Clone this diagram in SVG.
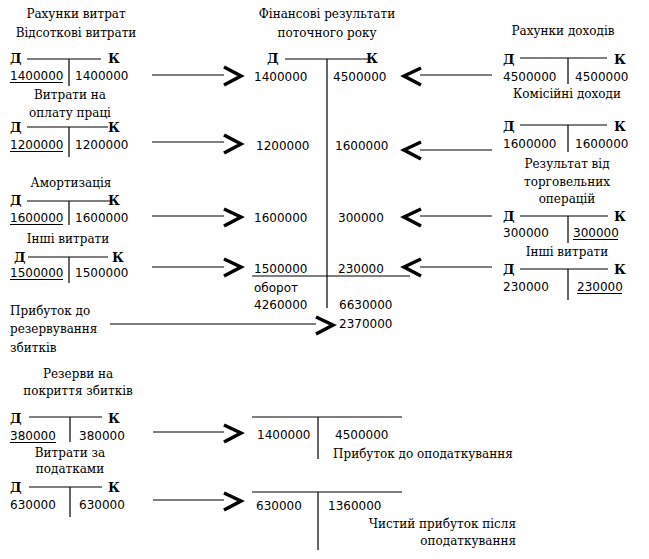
<svg xmlns="http://www.w3.org/2000/svg" width="649" height="559" viewBox="0 0 649 559">
<style>
.lbl{font-family:"DejaVu Serif","Liberation Serif",serif;font-size:12px;fill:#000}
.dk{font-family:"DejaVu Serif","Liberation Serif",serif;font-size:13px;font-weight:bold;fill:#000}
.num{font-family:"DejaVu Sans","Liberation Sans",sans-serif;font-size:12px;fill:#000}
.m{text-anchor:middle}
.e{text-anchor:end}
.ln{stroke:#000;stroke-width:1.2;fill:none}
.ul{stroke:#000;stroke-width:1;fill:none}
.chev{stroke:#000;stroke-width:3.5;fill:none;stroke-linejoin:miter}
</style>
<rect width="649" height="559" fill="#fff"/>

<g id="acc-vidsotkovi">
<text class="lbl m" x="76" y="18">Рахунки витрат</text>
<text class="lbl m" x="76" y="37">Відсоткові витрати</text>
<text class="dk" x="10" y="63">Д</text><text class="dk" x="108" y="63">К</text>
<line class="ln" x1="27" y1="59" x2="101" y2="59"/><line class="ln" x1="69" y1="59" x2="69" y2="86"/>
<text class="num" x="10" y="80">1400000</text><line class="ul" x1="10" y1="82.5" x2="63" y2="82.5"/>
<text class="num" x="75" y="80">1400000</text>
</g>

<g id="acc-oplata">
<text class="lbl m" x="70" y="99">Витрати на</text>
<text class="lbl m" x="70" y="117">оплату праці</text>
<text class="dk" x="10" y="132">Д</text><text class="dk" x="108" y="132">К</text>
<line class="ln" x1="27" y1="127" x2="108" y2="127"/><line class="ln" x1="69" y1="127" x2="69" y2="157"/>
<text class="num" x="10" y="149">1200000</text><line class="ul" x1="10" y1="151.5" x2="63" y2="151.5"/>
<text class="num" x="75" y="149">1200000</text>
</g>

<g id="acc-amort">
<text class="lbl m" x="71" y="187">Амортизація</text>
<text class="dk" x="10" y="205">Д</text><text class="dk" x="108" y="205">К</text>
<line class="ln" x1="27" y1="201" x2="110" y2="201"/><line class="ln" x1="69" y1="201" x2="69" y2="225"/>
<text class="num" x="10" y="222">1600000</text><line class="ul" x1="10" y1="224.5" x2="63" y2="224.5"/>
<text class="num" x="75" y="222">1600000</text>
</g>

<g id="acc-inshi-vytraty">
<text class="lbl m" x="68" y="243">Інші витрати</text>
<text class="dk" x="14" y="262">Д</text><text class="dk" x="112" y="262">К</text>
<line class="ln" x1="28" y1="257" x2="108" y2="257"/><line class="ln" x1="69" y1="257" x2="69" y2="283"/>
<text class="num" x="10" y="277">1500000</text><line class="ul" x1="10" y1="279.5" x2="63" y2="279.5"/>
<text class="num" x="75" y="277">1500000</text>
</g>

<g id="lbl-prybutok-rez">
<text class="lbl" x="10" y="315">Прибуток до</text>
<text class="lbl" x="10" y="333">резервування</text>
<text class="lbl" x="10" y="352">збитків</text>
</g>

<g id="acc-finres">
<text class="lbl m" x="327" y="18">Фінансові результати</text>
<text class="lbl m" x="327" y="37">поточного року</text>
<text class="dk" x="267" y="63">Д</text><text class="dk" x="366" y="63">К</text>
<line class="ln" x1="285" y1="59" x2="368" y2="59"/><line class="ln" x1="327" y1="59" x2="327" y2="308"/>
<text class="num" x="254" y="81">1400000</text><text class="num" x="333" y="81">4500000</text>
<text class="num" x="256" y="150">1200000</text><text class="num" x="335" y="150">1600000</text>
<text class="num" x="254" y="222">1600000</text><text class="num" x="338" y="222">300000</text>
<text class="num" x="254" y="273">1500000</text><text class="num" x="338" y="273">230000</text>
<line class="ln" x1="252" y1="276" x2="410" y2="276"/>
<text class="num" x="254" y="292">оборот</text>
<text class="num" x="254" y="309">4260000</text><text class="num" x="339" y="309">6630000</text>
<text class="num" x="339" y="328">2370000</text>
</g>

<g id="acc-dohody">
<text class="lbl m" x="563" y="35">Рахунки доходів</text>
<text class="dk" x="503" y="64">Д</text><text class="dk" x="614" y="64">К</text>
<line class="ln" x1="520" y1="58" x2="607" y2="58"/><line class="ln" x1="568" y1="58" x2="568" y2="84"/>
<text class="num" x="503" y="81">4500000</text><text class="num" x="575" y="81">4500000</text>
</g>

<g id="acc-komisiini">
<text class="lbl m" x="567" y="98">Комісійні доходи</text>
<text class="dk" x="503" y="131">Д</text><text class="dk" x="614" y="131">К</text>
<line class="ln" x1="520" y1="125" x2="607" y2="125"/><line class="ln" x1="568" y1="125" x2="568" y2="152"/>
<text class="num" x="503" y="148">1600000</text><text class="num" x="575" y="148">1600000</text>
</g>

<g id="acc-torg">
<text class="lbl m" x="567" y="168">Результат від</text>
<text class="lbl m" x="567" y="186">торговельних</text>
<text class="lbl m" x="567" y="203">операцій</text>
<text class="dk" x="503" y="221">Д</text><text class="dk" x="614" y="221">К</text>
<line class="ln" x1="520" y1="216" x2="608" y2="216"/><line class="ln" x1="568" y1="216" x2="568" y2="243"/>
<text class="num" x="503" y="237">300000</text><text class="num" x="573" y="237">300000</text>
<line class="ul" x1="573" y1="239.5" x2="618" y2="239.5"/>
</g>

<g id="acc-inshi-right">
<text class="lbl m" x="567" y="256">Інші витрати</text>
<text class="dk" x="503" y="274">Д</text><text class="dk" x="614" y="274">К</text>
<line class="ln" x1="520" y1="269" x2="608" y2="269"/><line class="ln" x1="568" y1="269" x2="568" y2="300"/>
<text class="num" x="503" y="291">230000</text><text class="num" x="577" y="291">230000</text>
<line class="ul" x1="577" y1="293.5" x2="622" y2="293.5"/>
</g>

<g id="acc-rezervy">
<text class="lbl m" x="78" y="378">Резерви на</text>
<text class="lbl m" x="78" y="395">покриття збитків</text>
<text class="dk" x="10" y="423">Д</text><text class="dk" x="108" y="423">К</text>
<line class="ln" x1="29" y1="417" x2="102" y2="417"/><line class="ln" x1="70" y1="417" x2="70" y2="442"/>
<text class="num" x="10" y="440">380000</text><line class="ul" x1="10" y1="442.5" x2="56" y2="442.5"/>
<text class="num" x="79" y="440">380000</text>
</g>

<g id="acc-podatky">
<text class="lbl m" x="70" y="457">Витрати за</text>
<text class="lbl m" x="70" y="473">податками</text>
<text class="dk" x="10" y="492">Д</text><text class="dk" x="108" y="492">К</text>
<line class="ln" x1="29" y1="487" x2="102" y2="487"/><line class="ln" x1="70" y1="487" x2="70" y2="517"/>
<text class="num" x="10" y="509">630000</text><text class="num" x="79" y="509">630000</text>
</g>

<g id="acc-pry-opod">
<line class="ln" x1="252" y1="417" x2="402" y2="417"/><line class="ln" x1="318" y1="417" x2="318" y2="459"/>
<text class="num" x="257" y="439">1400000</text><text class="num" x="335" y="439">4500000</text>
<text class="lbl" x="333" y="458">Прибуток до оподаткування</text>
</g>

<g id="acc-chystyi">
<line class="ln" x1="252" y1="492" x2="402" y2="492"/><line class="ln" x1="318" y1="492" x2="318" y2="550"/>
<text class="num" x="256" y="510">630000</text><text class="num" x="328" y="510">1360000</text>
<text class="lbl e" x="516" y="528">Чистий прибуток після</text>
<text class="lbl e" x="516" y="545">оподаткування</text>
</g>

<g id="connectors">
<line class="ln" x1="152" y1="75" x2="224" y2="75"/><polyline class="chev" points="224,67 241,76 224,85"/>
<line class="ln" x1="152" y1="142" x2="224" y2="142"/><polyline class="chev" points="224,135 241,144 224,153"/>
<line class="ln" x1="152" y1="216" x2="224" y2="216"/><polyline class="chev" points="224,209 241,217 224,226"/>
<line class="ln" x1="152" y1="267" x2="224" y2="267"/><polyline class="chev" points="224,259 241,267 224,276"/>
<line class="ln" x1="110" y1="324" x2="316" y2="324"/><polyline class="chev" points="316,317 333,325 316,334"/>
<line class="ln" x1="153" y1="432" x2="224" y2="432"/><polyline class="chev" points="224,425 241,433 224,442"/>
<line class="ln" x1="153" y1="500" x2="224" y2="500"/><polyline class="chev" points="224,493 241,501 224,510"/>
<line class="ln" x1="420" y1="75" x2="492" y2="75"/><polyline class="chev" points="421,68 404,76 421,85"/>
<line class="ln" x1="420" y1="150" x2="492" y2="150"/><polyline class="chev" points="421,142 404,150 421,159"/>
<line class="ln" x1="420" y1="216" x2="492" y2="216"/><polyline class="chev" points="421,209 404,217 421,226"/>
<line class="ln" x1="420" y1="267" x2="492" y2="267"/><polyline class="chev" points="421,259 404,267 421,276"/>
</g>
</svg>
